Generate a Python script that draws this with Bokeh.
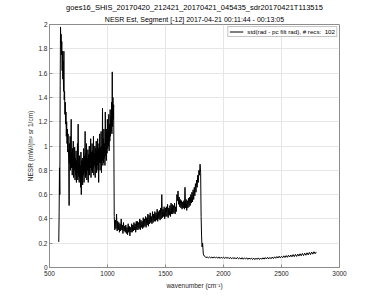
import numpy as np
from bokeh.plotting import figure
from bokeh.models import Range1d, Title, CustomJSTickFormatter, Legend, LegendItem, FixedTicker
from bokeh.embed import file_html
from bokeh.resources import INLINE

title1 = "goes16_SHIS_20170420_212421_20170421_045435_sdr20170421T113515"
title2 = "NESR Est, Segment [-12] 2017-04-21 00:11:44 - 00:13:05"
xlabel = "wavenumber (cm\u207b\u00b9)"
ylabel = "NESR (mW/(m\u00b2 sr 1/cm)"
legend_label = "std(rad - pc filt rad), # recs:  102"

x_ticks = [500, 1000, 1500, 2000, 2500, 3000]
y_ticks = [0, 0.2, 0.4, 0.6, 0.8, 1.0, 1.2, 1.4, 1.6, 1.8, 2.0]

# rise of the longwave band (explicit wavenumbers)
wn_rise = [580, 583, 586, 589, 592, 595, 598]
nesr_rise = [0.21, 0.45, 0.82, 0.60, 1.50, 1.98, 1.85]

# longwave decay, 600-660 cm-1, step 3
band1a = (600, 660, 3)
nesr_1a = [1.92, 1.75, 1.86, 1.62, 1.78, 1.55, 1.70, 1.45, 1.78, 1.38,
           1.45, 1.26, 1.36, 1.18, 1.28, 1.08, 1.20, 1.02, 1.14, 0.95, 1.10]

# longwave band, 663-1053 cm-1, step 3
band1b = (663, 1053, 3)
nesr_1b = [0.98, 0.84, 0.51, 1.02, 0.86, 1.08, 0.80, 1.00, 1.22, 0.82,
           0.95, 0.76, 0.98, 0.82, 1.04, 0.74, 0.92, 0.80, 0.99, 0.72,
           0.90, 0.76, 0.96, 0.70, 0.88, 0.78, 1.02, 0.72, 1.18, 0.75,
           0.86, 0.70, 0.92, 0.74, 0.84, 0.66, 0.95, 0.60, 0.88, 0.72,
           0.90, 0.68, 0.86, 0.76, 0.98, 0.70, 0.92, 0.78, 1.12, 0.74,
           0.94, 0.76, 1.02, 0.72, 0.90, 0.80, 0.97, 0.70, 0.93, 0.79,
           1.00, 0.76, 0.92, 0.82, 1.06, 0.74, 0.95, 0.80, 1.02, 0.78,
           0.96, 0.82, 1.08, 0.76, 0.94, 0.84, 1.00, 0.74, 0.98, 0.82,
           1.04, 0.78, 0.96, 0.84, 1.06, 0.80, 0.98, 0.70, 1.02, 0.86,
           1.10, 0.80, 0.99, 0.86, 1.12, 0.78, 1.00, 0.88, 1.31, 0.84,
           1.06, 0.86, 1.14, 0.90, 1.02, 0.84, 1.28, 0.92, 1.10, 0.88,
           1.14, 0.94, 1.22, 0.98, 1.12, 1.00, 1.26, 0.96, 1.18, 1.04,
           1.30, 1.08, 1.24, 1.12, 1.36, 1.10, 1.61, 1.16, 1.40, 1.22,
           1.34]

# midwave band, 1058-1803 cm-1, step 5
band2 = (1058, 1803, 5)
nesr_2 = [0.42, 0.31, 0.39, 0.32, 0.44, 0.30, 0.38, 0.31, 0.37, 0.29,
          0.36, 0.30, 0.40, 0.31, 0.35, 0.28, 0.37, 0.30, 0.34, 0.29,
          0.35, 0.28, 0.33, 0.27, 0.36, 0.29, 0.34, 0.26, 0.33, 0.29,
          0.36, 0.29, 0.35, 0.30, 0.37, 0.31, 0.36, 0.29, 0.38, 0.31,
          0.38, 0.31, 0.37, 0.32, 0.40, 0.31, 0.39, 0.33, 0.38, 0.32,
          0.41, 0.33, 0.40, 0.34, 0.42, 0.33, 0.41, 0.35, 0.44, 0.34,
          0.43, 0.36, 0.45, 0.37, 0.42, 0.36, 0.46, 0.37, 0.44, 0.38,
          0.46, 0.38, 0.45, 0.39, 0.48, 0.38, 0.46, 0.40, 0.47, 0.39,
          0.49, 0.40, 0.60, 0.41, 0.48, 0.42, 0.50, 0.40, 0.49, 0.42,
          0.50, 0.42, 0.52, 0.41, 0.49, 0.43, 0.51, 0.42, 0.53, 0.44,
          0.52, 0.44, 0.51, 0.45, 0.53, 0.44, 0.50, 0.46, 0.60, 0.55,
          0.63, 0.52, 0.58, 0.50, 0.56, 0.49, 0.55, 0.48, 0.54, 0.49,
          0.55, 0.48, 0.66, 0.49, 0.56, 0.47, 0.55, 0.49, 0.57, 0.50,
          0.58, 0.51, 0.60, 0.53, 0.62, 0.54, 0.64, 0.56, 0.66, 0.59,
          0.69, 0.62, 0.72, 0.66, 0.76, 0.70, 0.80, 0.76, 0.85, 0.78]

# drop at the band edge (explicit wavenumbers)
wn_drop = [1807, 1811, 1815, 1820, 1826, 1833]
nesr_drop = [0.42, 0.26, 0.17, 0.20, 0.11, 0.095]

# shortwave band, 1840-2800 cm-1, step 10
band3 = (1840, 2800, 10)
nesr_3 = [0.092, 0.080, 0.088, 0.078, 0.087, 0.079, 0.086, 0.077, 0.088, 0.078,
          0.086, 0.076, 0.087, 0.075, 0.085, 0.077, 0.086, 0.074, 0.084, 0.076,
          0.083, 0.072, 0.084, 0.071, 0.082, 0.073, 0.081, 0.070, 0.083, 0.072,
          0.080, 0.069, 0.081, 0.068, 0.079, 0.070, 0.080, 0.067, 0.078, 0.069,
          0.077, 0.066, 0.078, 0.065, 0.077, 0.067, 0.079, 0.066, 0.078, 0.068,
          0.080, 0.069, 0.082, 0.070, 0.084, 0.071, 0.083, 0.072, 0.086, 0.074,
          0.088, 0.076, 0.090, 0.078, 0.093, 0.079, 0.092, 0.081, 0.096, 0.082,
          0.098, 0.084, 0.101, 0.086, 0.103, 0.088, 0.106, 0.089, 0.108, 0.091,
          0.110, 0.094, 0.113, 0.096, 0.116, 0.098, 0.118, 0.101, 0.121, 0.104,
          0.124, 0.106, 0.127, 0.110, 0.130, 0.113, 0.128]


def grid(b):
    start, stop, step = b
    return list(np.arange(start, stop + step / 2, step))


wn = (wn_rise + grid(band1a) + grid(band1b) + grid(band2) + wn_drop + grid(band3))
nesr = (nesr_rise + nesr_1a + nesr_1b + nesr_2 + nesr_drop + nesr_3)
assert len(wn) == len(nesr), (len(wn), len(nesr))

FONT = "Liberation Sans"
FS = "6.5px"

p = figure(width=375, height=301, output_backend="svg", toolbar_location=None,
           x_range=Range1d(500, 3000), y_range=Range1d(0, 2),
           min_border_left=49, min_border_right=36, min_border_top=23, min_border_bottom=34)
p.background_fill_color = "white"
p.border_fill_color = "white"
p.outline_line_color = "#8c8c8c"
p.outline_line_width = 1

for ax in (p.xaxis[0], p.yaxis[0]):
    ax.axis_line_color = "#8c8c8c"
    ax.major_tick_line_color = "#8c8c8c"
    ax.major_tick_in = 3
    ax.major_tick_out = 0
    ax.minor_tick_line_color = None
    ax.major_label_text_font = FONT
    ax.major_label_text_font_size = FS
    ax.major_label_text_color = "#262626"
    ax.axis_label_text_font = FONT
    ax.axis_label_text_font_size = FS
    ax.axis_label_text_font_style = "normal"
    ax.axis_label_text_color = "#262626"

p.xaxis.ticker = FixedTicker(ticks=x_ticks)
p.yaxis.ticker = FixedTicker(ticks=y_ticks)
p.yaxis.formatter = CustomJSTickFormatter(code="return tick.toFixed(1).replace(/\\.0$/, '');")
p.xaxis.axis_label = xlabel
p.yaxis.axis_label = ylabel
p.xaxis.major_label_standoff = 3
p.yaxis.major_label_standoff = 2
p.xaxis.axis_label_standoff = 3
p.yaxis.axis_label_standoff = 1

p.xgrid.grid_line_color = "#e6e6e6"
p.ygrid.grid_line_color = "#e6e6e6"
p.xgrid.grid_line_width = 1
p.ygrid.grid_line_width = 1

r = p.line(wn, nesr, line_color="black", line_width=1.0)

legend = Legend(items=[LegendItem(label=legend_label, renderers=[r])],
                location="top_right")
legend.label_text_font = FONT
legend.label_text_font_size = "6.2px"
legend.label_text_color = "black"
legend.glyph_width = 14
legend.glyph_height = 7
legend.label_height = 7
legend.label_standoff = 4
legend.padding = 1
legend.margin = 2
legend.spacing = 0
legend.border_line_color = "#8c8c8c"
legend.border_line_width = 1
legend.background_fill_alpha = 1
p.add_layout(legend)

p.add_layout(Title(text=title2, align="center", text_font=FONT, text_font_size="7.0px",
                   text_font_style="normal", text_color="black", standoff=4, offset=0), "above")
p.add_layout(Title(text=title1, align="center", text_font=FONT, text_font_size="7.5px",
                   text_font_style="normal", text_color="black", standoff=0, offset=0), "above")

open("out.html", "w").write(file_html(p, INLINE))
